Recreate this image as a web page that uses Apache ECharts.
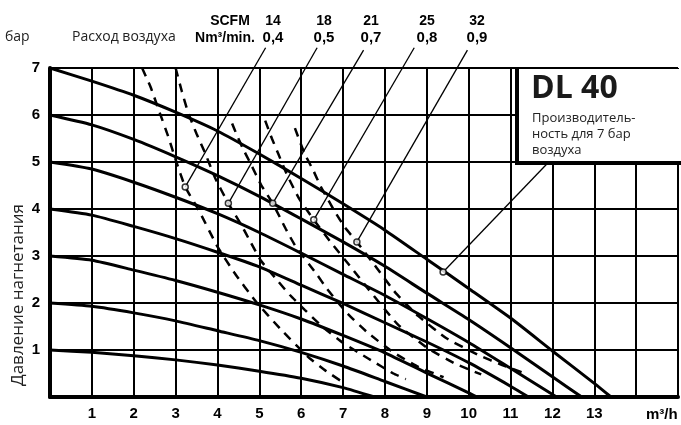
<!DOCTYPE html>
<html>
<head>
<meta charset="utf-8">
<script src="https://cdn.jsdelivr.net/npm/echarts/dist/echarts.min.js"></script>
<style>
  html, body { margin: 0; padding: 0; background: #fff; }
  #chart { width: 681px; height: 425px; }
</style>
</head>
<body>
<div id="chart"></div>
<script>
// кривые давления (бар) по расходу m3/h
var p7 = [[0,7],[1,6.72],[2,6.42],[3,6.06],[4,5.66],[5,5.17],[6,4.65],[7,4.11],[8,3.55],[9,2.93],[10,2.31],[11,1.68],[12,0.98],[13,0.29],[13.4,0]];
var p6 = [[0,6],[1,5.79],[2,5.48],[3,5.11],[4,4.71],[5,4.27],[6,3.79],[7,3.3],[8,2.78],[9,2.21],[10,1.65],[11,1.05],[12,0.43],[12.7,0]];
var p5 = [[0,5],[1,4.85],[2,4.57],[3,4.25],[4,3.9],[5,3.5],[6,3.06],[7,2.61],[8,2.16],[9,1.67],[10,1.16],[11,0.61],[12.1,0]];
var p4 = [[0,4],[1,3.87],[2,3.63],[3,3.37],[4,3.08],[5,2.77],[6,2.38],[7,1.99],[8,1.58],[9,1.17],[10,0.73],[11,0.23],[11.43,0]];
var p3 = [[0,3],[1,2.91],[2,2.7],[3,2.48],[4,2.23],[5,1.96],[6,1.66],[7,1.31],[8,0.94],[9,0.51],[10,0.09],[10.2,0]];
var p2 = [[0,2],[1,1.93],[2,1.79],[3,1.62],[4,1.41],[5,1.2],[6,0.95],[7,0.66],[8,0.33],[9,0]];
var p1 = [[0,1],[1,0.95],[2,0.88],[3,0.79],[4,0.68],[5,0.55],[6,0.4],[7,0.2],[7.75,0]];

// расход воздуха, штриховые кривые
var d04 = [[2.2,7],[2.4,6.6],[2.6,6.1],[2.84,5.5],[3.0,5.05],[3.23,4.47],[3.55,3.98],[4.0,3.2],[4.4,2.65],[4.9,2.05],[5.5,1.45],[6.17,0.85],[6.6,0.55],[7.05,0.28]];
var d05 = [[3.0,7],[3.15,6.5],[3.3,6.05],[3.5,5.6],[3.7,5.2],[3.95,4.65],[4.26,4.12],[4.57,3.66],[4.8,3.28],[5.04,2.9],[5.46,2.45],[5.73,2.17],[6.09,1.85],[6.5,1.5],[7.0,1.15],[7.6,0.82],[8.2,0.5],[8.5,0.38]];
var d07 = [[4.35,5.82],[4.45,5.6],[4.6,5.3],[4.8,4.95],[5.05,4.5],[5.32,4.12],[5.63,3.58],[5.87,3.2],[6.38,2.6],[6.6,2.32],[7.1,1.78],[7.6,1.36],[8.2,0.95],[8.8,0.64],[9.4,0.42]];
var d08 = [[5.14,5.88],[5.3,5.5],[5.45,5.18],[5.65,4.75],[5.95,4.22],[6.3,3.77],[6.7,3.3],[7.2,2.75],[7.6,2.3],[8.3,1.55],[9.0,1.05],[9.7,0.7],[10.3,0.48]];
var d09 = [[5.85,5.72],[6.07,5.2],[6.3,4.8],[6.46,4.49],[6.8,3.95],[7.05,3.6],[7.33,3.3],[7.8,2.75],[8.26,2.21],[8.8,1.72],[9.47,1.25],[10.24,0.89],[10.8,0.68],[11.35,0.5]];

var scfm = ['14', '18', '21', '25', '32'];
var nm3min = ['0,4', '0,5', '0,7', '0,8', '0,9'];
var leaderTop = [[5.15,7.43],[6.38,7.43],[7.49,7.38],[8.70,7.43],[9.97,7.38]];
var leaderEnd = [[3.23,4.47],[4.26,4.12],[5.32,4.12],[6.30,3.77],[7.33,3.30]];
var dlLeader = [[11.89,4.98],[9.39,2.66]];

var xTicks = [1,2,3,4,5,6,7,8,9,10,11,12,13];
var yTicks = [1,2,3,4,5,6,7];

var chart = echarts.init(document.getElementById('chart'));

var series = [];
[p1, p2, p3, p4, p5, p6, p7].forEach(function (d) {
    series.push({
        type: 'line', data: d, smooth: 0.2,
        symbol: 'none', silent: true, z: 5,
        lineStyle: { color: '#000', width: 3 }
    });
});
[d04, d05, d07, d08, d09].forEach(function (d) {
    series.push({
        type: 'line', data: d, smooth: 0.15,
        symbol: 'none', silent: true, z: 4,
        lineStyle: { color: '#000', width: 2.5, type: [9, 7] }
    });
});
leaderTop.forEach(function (t, i) {
    series.push({
        type: 'line', data: [t, leaderEnd[i]], symbol: 'none', clip: false, silent: true, z: 6,
        lineStyle: { color: '#000', width: 1.3 }
    });
});
series.push({
    type: 'line', data: dlLeader, symbol: 'none', clip: false, silent: true, z: 6,
    lineStyle: { color: '#000', width: 1.3 }
});
series.push({
    type: 'scatter', data: leaderEnd.concat([dlLeader[1]]), symbol: 'circle', symbolSize: 6,
    silent: true, z: 8,
    itemStyle: { color: '#fff', borderColor: '#000', borderWidth: 1.5 }
});

var head = [];
var labelX = [273, 324, 371, 427, 477];
scfm.forEach(function (s, i) {
    head.push({ type: 'text', x: labelX[i], y: 21, z: 100,
        style: { text: s, align: 'center', verticalAlign: 'middle', fill: '#000',
            font: 'bold 14px "Liberation Sans Narrow", "Liberation Sans", sans-serif' } });
    head.push({ type: 'text', x: labelX[i], y: 38, z: 100,
        style: { text: nm3min[i], align: 'center', verticalAlign: 'middle', fill: '#000',
            font: 'bold 15px "Liberation Sans Narrow", "Liberation Sans", sans-serif' } });
});

var option = {
    animation: false,
    backgroundColor: '#fff',
    grid: { left: 50, top: 68, width: 634.5, height: 329 },
    xAxis: {
        type: 'value', min: 0, max: 15, interval: 1,
        axisLine: { show: true, onZero: false, lineStyle: { color: '#000', width: 4 } },
        axisTick: { show: false },
        splitLine: { show: true, lineStyle: { color: '#000', width: 2 } },
        axisLabel: {
            color: '#000', fontWeight: 'bold', fontSize: 15, margin: 9,
            fontFamily: '"Liberation Sans", sans-serif',
            formatter: function (v) { return xTicks.indexOf(v) >= 0 ? String(v) : ''; }
        }
    },
    yAxis: {
        type: 'value', min: 0, max: 7, interval: 1,
        axisLine: { show: true, lineStyle: { color: '#000', width: 4 } },
        axisTick: { show: false },
        splitLine: { show: true, lineStyle: { color: '#000', width: 2 } },
        axisLabel: {
            color: '#000', fontWeight: 'bold', fontSize: 15, margin: 10,
            fontFamily: '"Liberation Sans", sans-serif',
            formatter: function (v) { return yTicks.indexOf(v) >= 0 ? String(v) : ''; }
        }
    },
    graphic: head.concat([
        { type: 'text', x: 5, y: 37, z: 100,
          style: { text: 'бар', verticalAlign: 'middle', fill: '#222', font: '14px "Open Sans", sans-serif' } },
        { type: 'text', x: 72, y: 37, z: 100,
          style: { text: 'Расход воздуха', verticalAlign: 'middle', fill: '#222', font: '14px "Open Sans", sans-serif' } },
        { type: 'text', x: 230, y: 21, z: 100,
          style: { text: 'SCFM', align: 'center', verticalAlign: 'middle', fill: '#000',
              font: 'bold 14px "Liberation Sans Narrow", "Liberation Sans", sans-serif' } },
        { type: 'text', x: 225, y: 38, z: 100,
          style: { text: 'Nm³/min.', align: 'center', verticalAlign: 'middle', fill: '#000',
              font: 'bold 14px "Liberation Sans Narrow", "Liberation Sans", sans-serif' } },
        { type: 'text', x: 18, y: 295, rotation: Math.PI / 2, z: 100,
          style: { text: 'Давление нагнетания', align: 'center', verticalAlign: 'middle', fill: '#222',
              font: '17px "Open Sans", sans-serif' } },
        { type: 'text', x: 646, y: 415, z: 100,
          style: { text: 'm³/h', align: 'left', verticalAlign: 'middle', fill: '#000',
              font: 'bold 15px "Liberation Sans", sans-serif' } },
        { type: 'rect', z: 100, shape: { x: 516, y: 69, width: 170, height: 94 },
          style: { fill: '#fff', stroke: null } },
        { type: 'polyline', z: 101, shape: { points: [[517, 68], [517, 163], [690, 163]] },
          style: { stroke: '#000', lineWidth: 4, fill: null } },
        { type: 'text', x: 531, y: 89, z: 102,
          style: { text: 'DL 40', verticalAlign: 'middle', fill: '#1a1a1a',
              font: 'bold 32px "Open Sans", sans-serif' } },
        { type: 'text', x: 532, y: 110, z: 102,
          style: { text: 'Производитель-\nность для 7 бар\nвоздуха', verticalAlign: 'top', fill: '#222',
              font: '13px "Open Sans", sans-serif', lineHeight: 16 } }
    ]),
    series: series
};

chart.setOption(option);
</script>
</body>
</html>
